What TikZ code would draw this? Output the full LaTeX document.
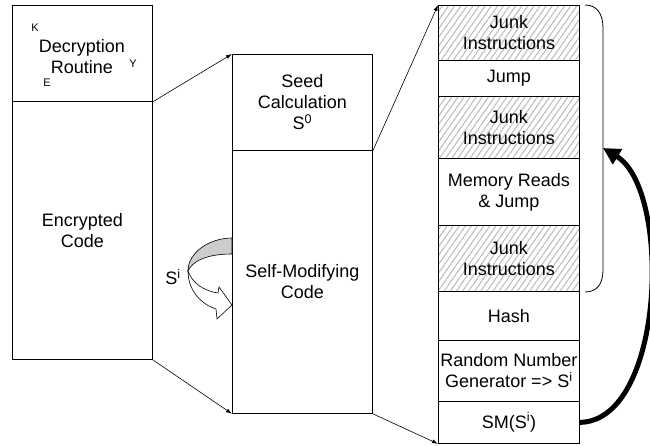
\documentclass[tikz,border=0pt]{standalone}
\usepackage{fontspec}
\setmainfont{Liberation Sans}
\usetikzlibrary{arrows.meta,patterns.meta}
\newcommand\lbl{\fontsize{18}{21}\selectfont}
\newcommand\tinylbl{\fontsize{11}{12}\selectfont}
\tikzset{
  box/.style={draw, line width=0.8pt, anchor=north west, minimum width=140pt,
    inner sep=0pt, align=center, font=\lbl},
  rbox/.style={box, minimum width=141pt},
  junk/.style={rbox, pattern={Lines[angle=55,distance=5pt,line width=1pt]}, pattern color=gray!55},
  conn/.style={line width=0.6pt, -{Latex[length=6pt,width=4pt]}},
  small/.style={font=\tinylbl, inner sep=0pt}
}
\begin{document}
\begin{tikzpicture}[x=1pt,y=-1pt]
\useasboundingbox (0,0) rectangle (650,446);
% left column
\node[box, minimum height=96pt] (dec) at (12,5) {};
\node[font=\lbl, align=center, inner sep=0pt] (dectxt) at (82,57) {Decryption\\Routine};
\node[small] (k) at (35,28) {K};
\node[small] (y) at (133,64) {Y};
\node[small] (e) at (47,83) {E};
\node[box, minimum height=258pt] (enc) at (12,101) {Encrypted\\Code};
% middle column
\node[box, minimum height=96pt] (seed) at (232,54) {Seed\\Calculation\\S\textsuperscript{0}};
\node[box, minimum height=263pt] (smc) at (232,150) {Self-Modifying\\Code};
% right column
\node[junk, minimum height=55pt] (j1) at (438,5) {Junk\\Instructions};
\node[rbox, minimum height=36pt] (jump) at (438,60) {Jump};
\node[junk, minimum height=62pt] (j2) at (438,96) {Junk\\Instructions};
\node[rbox, minimum height=67pt] (mem) at (438,158) {Memory Reads\\\& Jump};
\node[junk, minimum height=66pt] (j3) at (438,225) {Junk\\Instructions};
\node[rbox, minimum height=49pt] (hash) at (438,291) {Hash};
\node[rbox, minimum height=61pt] (rng) at (438,340) {Random Number\\Generator =\textgreater{} S\textsuperscript{i}};
\node[rbox, minimum height=42pt] (sm) at (438,401) {SM(S\textsuperscript{i})};
% connectors
\draw[conn] (dec.south east) -- (seed.north west);
\draw[conn] (seed.south east) -- (j1.north west);
\draw[conn] (enc.south east) -- (smc.south west);
\draw[conn] (smc.south east) -- (sm.south west);
% bracket
\draw[line width=0.8pt] (585,5) .. controls (597,5) and (603,14) .. (603,28)
  -- (603,270) .. controls (603,284) and (597,292) .. (585,292);
\coordinate (brk) at (603,148);
% big loop arrow
\draw[line width=5pt, -{Triangle[length=17pt,width=17pt]}] (sm.east)
  .. controls (665,421) and (672,190) .. (brk);
% ribbon arrow
\draw[line width=0.6pt, fill=gray!40] (232,238) .. controls (210,238) and (188,252) .. (188,271)
  .. controls (192,262) and (205,254) .. (232,254) -- cycle;
\draw[line width=0.6pt, fill=white] (188,271) .. controls (188,292) and (203,305) .. (216,309)
  -- (217,319) -- (232,305) -- (219,287) -- (218,293)
  .. controls (204,291) and (192,283) .. (188,271) -- cycle;
\node[font=\lbl, inner sep=0pt] (si) at (173,277) {S\textsuperscript{i}};
\end{tikzpicture}
\end{document}
